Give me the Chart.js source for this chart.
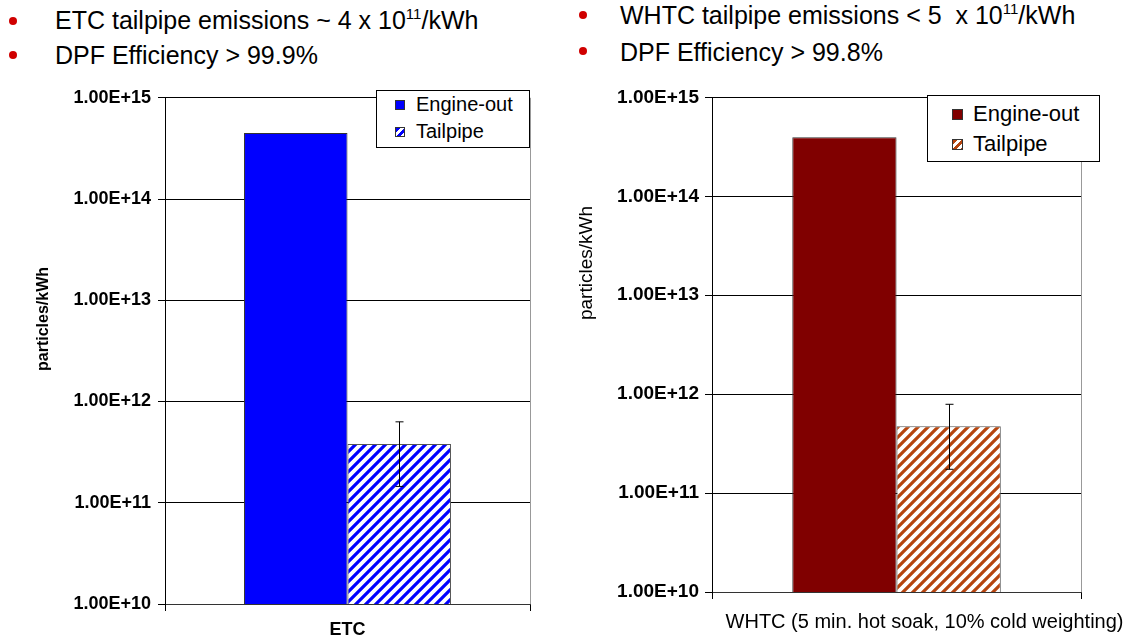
<!DOCTYPE html>
<html>
<head>
<meta charset="utf-8">
<title>DPF particle emissions</title>
<script src="https://cdn.jsdelivr.net/npm/chart.js@4.4.0/dist/chart.umd.min.js"></script>
<style>
    body { margin: 0; width: 1131px; height: 639px; position: relative; overflow: hidden; background: #fff;
           font-family: "Liberation Sans", Arial, sans-serif; color: #000; }
    .dot { position: absolute; width: 8px; height: 8px; border-radius: 50%; background: #d00000; }
    .line { position: absolute; font-size: 25px; line-height: 28px; white-space: pre; }
    .line sup { font-size: 15px; vertical-align: 10px; line-height: 0; }
    .wrap { position: absolute; }
    .ytitle { position: absolute; width: 200px; height: 22px; line-height: 22px; text-align: center; transform: rotate(-90deg); }
    .legend { position: absolute; background: #fff; border: 1px solid #000; box-sizing: border-box; }
    .legend .row { position: absolute; white-space: nowrap; }
    .legend .sw { display: inline-block; border: 1px solid #333; box-sizing: border-box; vertical-align: middle; }
</style>
</head>
<body>

<div class="dot" style="left:9px;top:17px"></div>
<div class="line" style="left:55px;top:6px">ETC tailpipe emissions ~ 4 x 10<sup>11</sup>/kWh</div>
<div class="dot" style="left:9px;top:51px"></div>
<div class="line" style="left:55px;top:41px">DPF Efficiency &gt; 99.9%</div>

<div class="dot" style="left:579px;top:11px"></div>
<div class="line" style="left:620px;top:1px">WHTC tailpipe emissions &lt; 5  x 10<sup>11</sup>/kWh</div>
<div class="dot" style="left:579px;top:47px"></div>
<div class="line" style="left:620px;top:38px">DPF Efficiency &gt; 99.8%</div>

<div class="wrap" style="left:0;top:80px;width:560px;height:559px"><canvas id="etcChart" width="560" height="559"></canvas></div>
<div class="wrap" style="left:565px;top:80px;width:566px;height:559px"><canvas id="whtcChart" width="566" height="559"></canvas></div>

<div class="ytitle" style="left:-57px;top:308px;font-size:16px;font-weight:bold">particles/kWh</div>
<div class="ytitle" style="left:486px;top:252px;font-size:19px">particles/kWh</div>

<div class="legend" id="etcLegend" style="left:376px;top:90px;width:154px;height:58px;font-size:20px"></div>
<div class="legend" id="whtcLegend" style="left:927px;top:95px;width:173px;height:67px;font-size:22px"></div>

<script>
// ---- data ----
const seriesNames = ['Engine-out', 'Tailpipe'];
const yTickValues = [1e10, 1e11, 1e12, 1e13, 1e14, 1e15];

// ETC chart
const etcLabels = ['ETC'];
const etcEngineOut = [4.5e14];
const etcTailpipe = [3.8e11];
const etcTailpipeErrHigh = [6.3e11];
const etcTailpipeErrLow = [1.45e11];

// WHTC chart
const whtcLabels = ['WHTC (5 min. hot soak, 10% cold weighting)'];
const whtcEngineOut = [3.95e14];
const whtcTailpipe = [4.75e11];
const whtcTailpipeErrHigh = [7.9e11];
const whtcTailpipeErrLow = [1.74e11];

const FONT = '"Liberation Sans", Arial, sans-serif';

// diagonal hatch used for the tailpipe bars
function makeStripes(color) {
    const c = document.createElement('canvas');
    c.width = 10; c.height = 10;
    const g = c.getContext('2d');
    g.fillStyle = '#fff';
    g.fillRect(0, 0, 10, 10);
    g.strokeStyle = color;
    g.lineWidth = 3.2;
    g.beginPath();
    g.moveTo(-2, 12); g.lineTo(12, -2);
    g.moveTo(-2, 2); g.lineTo(2, -2);
    g.moveTo(8, 12); g.lineTo(12, 8);
    g.stroke();
    return g.createPattern(c, 'repeat');
}

// draws the error whiskers on top of the bars
const errorBarPlugin = {
    id: 'errorBars',
    afterDatasetsDraw(chart) {
        const ctx = chart.ctx;
        const yScale = chart.scales.y;
        chart.data.datasets.forEach((ds, i) => {
            if (!ds.errHigh) return;
            chart.getDatasetMeta(i).data.forEach((bar, j) => {
                const x = Math.round(bar.x) + 0.5;
                const top = yScale.getPixelForValue(ds.errHigh[j]);
                const bot = yScale.getPixelForValue(ds.errLow[j]);
                ctx.save();
                ctx.strokeStyle = '#000';
                ctx.lineWidth = 1;
                ctx.beginPath();
                ctx.moveTo(x, top); ctx.lineTo(x, bot);
                ctx.moveTo(x - 4, top); ctx.lineTo(x + 4, top);
                ctx.moveTo(x - 4, bot); ctx.lineTo(x + 4, bot);
                ctx.stroke();
                ctx.restore();
            });
        });
    }
};

function buildLegend(id, solid, stripeColor, rows) {
    const box = document.getElementById(id);
    seriesNames.forEach((name, i) => {
        const row = document.createElement('div');
        row.className = 'row';
        row.style.left = rows.x + 'px';
        row.style.top = rows.y[i] + 'px';
        const sw = document.createElement('span');
        sw.className = 'sw';
        sw.style.width = sw.style.height = rows.sw + 'px';
        if (i === 0) {
            sw.style.background = solid;
        } else {
            sw.style.background = 'repeating-linear-gradient(135deg, ' + stripeColor + ' 0 3px, #fff 3px 6px)';
        }
        row.appendChild(sw);
        const t = document.createElement('span');
        t.textContent = name;
        t.style.verticalAlign = 'middle';
        t.style.marginLeft = rows.gap + 'px';
        row.appendChild(t);
        box.appendChild(row);
    });
}

function drawChart(canvasId, labels, engineOut, tailpipe, errHigh, errLow, cfg) {
    const ctx = document.getElementById(canvasId).getContext('2d');
    return new Chart(ctx, {
        type: 'bar',
        data: {
            labels: labels,
            datasets: [
                {
                    label: seriesNames[0],
                    data: engineOut,
                    backgroundColor: cfg.solid,
                    borderColor: '#333',
                    borderWidth: 1
                },
                {
                    label: seriesNames[1],
                    data: tailpipe,
                    backgroundColor: makeStripes(cfg.stripe),
                    borderColor: '#555',
                    borderWidth: 1,
                    errHigh: errHigh,
                    errLow: errLow
                }
            ]
        },
        options: {
            responsive: false,
            animation: false,
            layout: { padding: { left: 0, top: cfg.padTop, right: cfg.padRight, bottom: 0 } },
            datasets: { bar: { categoryPercentage: cfg.catPct, barPercentage: 1 } },
            plugins: {
                legend: { display: false },
                tooltip: { enabled: false }
            },
            scales: {
                x: {
                    offset: true,
                    grid: { offset: true, color: '#999', tickColor: '#000', tickLength: 7 },
                    border: { color: '#333' },
                    ticks: {
                        color: '#000',
                        maxRotation: 0, minRotation: 0,
                        padding: cfg.xPad,
                        labelOffset: cfg.labelOffset,
                        font: { family: FONT, size: cfg.xSize, weight: cfg.xWeight }
                    },
                    afterFit: s => { s.height = cfg.xHeight; }
                },
                y: {
                    type: 'logarithmic',
                    min: yTickValues[0],
                    max: yTickValues[yTickValues.length - 1],
                    afterBuildTicks: s => { s.ticks = yTickValues.map(v => ({ value: v })); },
                    grid: { color: '#000', tickColor: '#000', tickLength: 7 },
                    border: { color: '#000' },
                    ticks: {
                        color: '#000',
                        padding: cfg.yPad,
                        font: { family: FONT, size: cfg.ySize, weight: 'bold' },
                        callback: v => Number(v).toExponential(2).toUpperCase()
                    },
                    afterFit: s => { s.width = cfg.yWidth; }
                }
            }
        },
        plugins: [errorBarPlugin]
    });
}

drawChart('etcChart', etcLabels, etcEngineOut, etcTailpipe, etcTailpipeErrHigh, etcTailpipeErrLow, {
    solid: '#0000ff', stripe: '#0000ff',
    padTop: 15, padRight: 30, catPct: 0.567,
    xHeight: 35, xPad: 8, xSize: 18, xWeight: 'bold', labelOffset: 0,
    yWidth: 165, yPad: 7, ySize: 18
});
drawChart('whtcChart', whtcLabels, whtcEngineOut, whtcTailpipe, whtcTailpipeErrHigh, whtcTailpipeErrLow, {
    solid: '#800000', stripe: '#b5440e',
    padTop: 17, padRight: 49, catPct: 0.565,
    xHeight: 47, xPad: 11, xSize: 20, xWeight: 'normal', labelOffset: 28,
    yWidth: 147, yPad: 6, ySize: 19
});

buildLegend('etcLegend', '#0000ff', '#0000ff', { x: 18, y: [1, 28], sw: 10, gap: 11 });
buildLegend('whtcLegend', '#800000', '#b5440e', { x: 24, y: [4, 34], sw: 11, gap: 10 });
</script>
</body>
</html>
